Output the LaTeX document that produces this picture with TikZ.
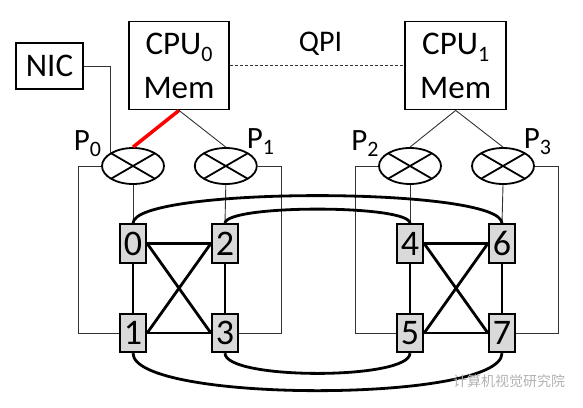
\documentclass[tikz,border=0pt]{standalone}
\usepackage{fontspec}
\setmainfont{Carlito}
\newfontfamily\cjkfont{Noto Sans CJK SC}
\usetikzlibrary{shapes.geometric}
\newcommand{\idx}[1]{\raisebox{-0.22em}{\fontsize{22}{22}\selectfont #1}}

\begin{document}
\begin{tikzpicture}[
x=1pt, y=-1pt,
box/.style={draw, line width=1.8pt, align=center, inner sep=0pt, font=\fontsize{33}{44}\selectfont},
port/.style={draw, ellipse, line width=1.8pt, minimum width=62pt, minimum height=36pt, inner sep=0pt,
  path picture={\draw[line width=1.8pt] (path picture bounding box.north west) -- (path picture bounding box.south east)
    (path picture bounding box.south west) -- (path picture bounding box.north east);}},
router/.style={draw, line width=1.8pt, fill=black!15, minimum width=26.5pt, minimum height=38.5pt, inner sep=0pt, font=\fontsize{36}{36}\selectfont},
link/.style={line width=2.8pt},
wire/.style={line width=0.9pt, black!80},
lbl/.style={font=\fontsize{31}{31}\selectfont, anchor=base, inner sep=0pt}
]
\useasboundingbox (0,0) rectangle (583,407);

% boxes
\node[box, minimum width=67pt, minimum height=46pt] (nic) at (49.5,66) {NIC};
\node[box, minimum width=100pt, minimum height=88pt] (cpu0) at (179,65.5) {CPU\idx{0}\\Mem};
\node[box, minimum width=101pt, minimum height=88pt] (cpu1) at (455.7,65.5) {CPU\idx{1}\\Mem};
\node[lbl, font=\fontsize{30}{30}\selectfont] (qpi) at (320.5,51.7) {QPI};

% ports
\node[port] (p0) at (133,166) {};
\node[port] (p1) at (225.8,166) {};
\node[port] (p2) at (410,166) {};
\node[port] (p3) at (503,166) {};
\node[lbl] (l0) at (87.5,150) {P\idx{0}};
\node[lbl] (l1) at (260.5,148) {P\idx{1}};
\node[lbl] (l2) at (365,150) {P\idx{2}};
\node[lbl] (l3) at (537.5,148) {P\idx{3}};

% routers
\node[router] (r0) at (133,243.5) {0};
\node[router] (r1) at (133,333) {1};
\node[router] (r2) at (225,243.5) {2};
\node[router] (r3) at (225,333) {3};
\node[router] (r4) at (410,243.5) {4};
\node[router] (r5) at (410,333) {5};
\node[router] (r6) at (502,243.5) {6};
\node[router] (r7) at (502,333) {7};

% host side
\draw[wire, dash pattern=on 3pt off 2pt] (cpu0) -- (cpu1);
\draw[wire] (nic.east) -| (p0.north west);
\draw[red, line width=3.5pt] (cpu0.south) -- (p0.north);
\draw[wire] (cpu0.south) -- (p1.north);
\draw[wire] (cpu1.south) -- (p2.north);
\draw[wire] (cpu1.south) -- (p3.north);

% ports to routers
\draw[wire] (p0.south) -- (r0.north);
\draw[wire] (p1.south) -- (r2.north);
\draw[wire] (p2.south) -- (r4.north);
\draw[wire] (p3.south) -- (r6.north);
\draw[wire] (p0.west) -- ++(-23,0) |- (r1.west);
\draw[wire] (p1.east) -- ++(24,0) |- (r3.east);
\draw[wire] (p2.west) -- ++(-23,0) |- (r5.west);
\draw[wire] (p3.east) -- ++(24,0) |- (r7.east);

% links inside each group
\foreach \a/\b/\c/\d in {r0/r1/r2/r3, r4/r5/r6/r7} {
  \draw[link] (\a) -- (\b);
  \draw[link] (\c) -- (\d);
  \draw[link] (\a.east) -- (\c.west);
  \draw[link] (\b.east) -- (\d.west);
  \draw[link] (\a.east) -- (\d.west);
  \draw[link] (\b.east) -- (\c.west);
}

% links between groups
\draw[link] (r0.north) .. controls +(0,-37) and +(0,-37) .. (r6.north);
\draw[link] (r2.north) .. controls +(0,-19) and +(0,-19) .. (r4.north);
\draw[link] (r1.south) .. controls +(0,50) and +(0,50) .. (r7.south);
\draw[link] (r3.south) .. controls +(0,27) and +(0,27) .. (r5.south);

\node[text=black!30, font=\cjkfont\fontsize{14}{14}\selectfont] (wm) at (509,381.5) {计算机视觉研究院};
\end{tikzpicture}
\end{document}
